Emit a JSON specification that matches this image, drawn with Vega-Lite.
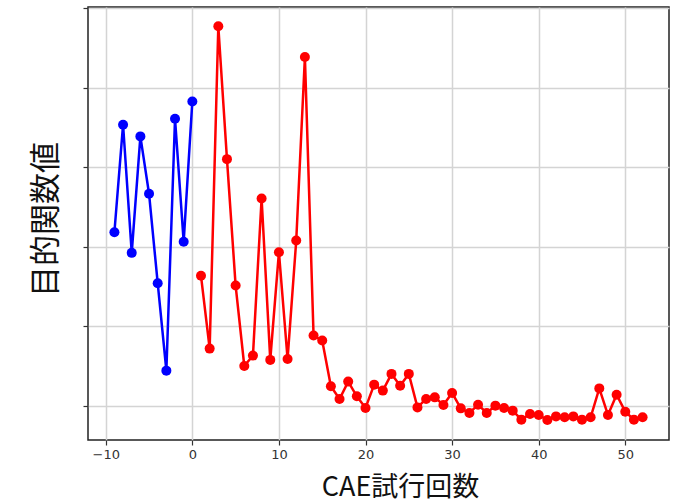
{
  "$schema": "https://vega.github.io/schema/vega-lite/v6.json",
  "autosize": "none",
  "width": 581,
  "height": 433,
  "padding": {"left": 88, "top": 7, "right": 5, "bottom": 62},
  "background": "white",
  "config": {
    "view": {"stroke": "#222222", "strokeWidth": 1.5},
    "font": "DejaVu Sans"
  },
  "data": {
    "values": [
      {"x": -9, "y": 2.184, "s": "initial"},
      {"x": -8, "y": 3.536, "s": "initial"},
      {"x": -7, "y": 1.925, "s": "initial"},
      {"x": -6, "y": 3.389, "s": "initial"},
      {"x": -5, "y": 2.668, "s": "initial"},
      {"x": -4, "y": 1.543, "s": "initial"},
      {"x": -3, "y": 0.444, "s": "initial"},
      {"x": -2, "y": 3.611, "s": "initial"},
      {"x": -1, "y": 2.064, "s": "initial"},
      {"x": 0, "y": 3.829, "s": "initial"},
      {"x": 1, "y": 1.636, "s": "opt"},
      {"x": 2, "y": 0.721, "s": "opt"},
      {"x": 3, "y": 4.773, "s": "opt"},
      {"x": 4, "y": 3.103, "s": "opt"},
      {"x": 5, "y": 1.514, "s": "opt"},
      {"x": 6, "y": 0.503, "s": "opt"},
      {"x": 7, "y": 0.633, "s": "opt"},
      {"x": 8, "y": 2.609, "s": "opt"},
      {"x": 9, "y": 0.579, "s": "opt"},
      {"x": 10, "y": 1.933, "s": "opt"},
      {"x": 11, "y": 0.591, "s": "opt"},
      {"x": 12, "y": 2.08, "s": "opt"},
      {"x": 13, "y": 4.387, "s": "opt"},
      {"x": 14, "y": 0.885, "s": "opt"},
      {"x": 15, "y": 0.822, "s": "opt"},
      {"x": 16, "y": 0.247, "s": "opt"},
      {"x": 17, "y": 0.088, "s": "opt"},
      {"x": 18, "y": 0.306, "s": "opt"},
      {"x": 19, "y": 0.121, "s": "opt"},
      {"x": 20, "y": -0.025, "s": "opt"},
      {"x": 21, "y": 0.268, "s": "opt"},
      {"x": 22, "y": 0.193, "s": "opt"},
      {"x": 23, "y": 0.403, "s": "opt"},
      {"x": 24, "y": 0.255, "s": "opt"},
      {"x": 25, "y": 0.403, "s": "opt"},
      {"x": 26, "y": -0.018, "s": "opt"},
      {"x": 27, "y": 0.088, "s": "opt"},
      {"x": 28, "y": 0.108, "s": "opt"},
      {"x": 29, "y": 0.013, "s": "opt"},
      {"x": 30, "y": 0.164, "s": "opt"},
      {"x": 31, "y": -0.03, "s": "opt"},
      {"x": 32, "y": -0.088, "s": "opt"},
      {"x": 33, "y": 0.016, "s": "opt"},
      {"x": 34, "y": -0.088, "s": "opt"},
      {"x": 35, "y": 0.004, "s": "opt"},
      {"x": 36, "y": -0.025, "s": "opt"},
      {"x": 37, "y": -0.059, "s": "opt"},
      {"x": 38, "y": -0.172, "s": "opt"},
      {"x": 39, "y": -0.101, "s": "opt"},
      {"x": 40, "y": -0.113, "s": "opt"},
      {"x": 41, "y": -0.176, "s": "opt"},
      {"x": 42, "y": -0.131, "s": "opt"},
      {"x": 43, "y": -0.143, "s": "opt"},
      {"x": 44, "y": -0.131, "s": "opt"},
      {"x": 45, "y": -0.172, "s": "opt"},
      {"x": 46, "y": -0.143, "s": "opt"},
      {"x": 47, "y": 0.221, "s": "opt"},
      {"x": 48, "y": -0.113, "s": "opt"},
      {"x": 49, "y": 0.142, "s": "opt"},
      {"x": 50, "y": -0.072, "s": "opt"},
      {"x": 51, "y": -0.172, "s": "opt"},
      {"x": 52, "y": -0.143, "s": "opt"}
    ]
  },
  "encoding": {
    "x": {
      "field": "x",
      "type": "quantitative",
      "scale": {"domain": [-12.05, 55.05], "nice": false, "zero": false},
      "axis": {
        "values": [-10, 0, 10, 20, 30, 40, 50],
        "title": "CAE試行回数",
        "titleFont": "Noto Sans CJK JP",
        "titleFontSize": 27,
        "titleFontWeight": "normal",
        "titleColor": "#111111",
        "titleX": 312,
        "titleY": 55,
        "titleAnchor": null,
        "titleAlign": "center",
        "titleBaseline": "alphabetic",
        "labelFont": "DejaVu Sans",
        "labelFontSize": 13,
        "labelColor": "#333333",
        "labelPadding": 3,
        "labelFlush": false,
        "tickColor": "#333333",
        "tickSize": 5,
        "tickWidth": 1.2,
        "domain": false,
        "grid": true,
        "gridColor": "#d4d4d4",
        "gridWidth": 1.5
      }
    },
    "y": {
      "field": "y",
      "type": "quantitative",
      "scale": {"domain": [-0.428, 5.016], "nice": false, "zero": false},
      "axis": {
        "values": [0, 1, 2, 3, 4, 5],
        "labels": false,
        "title": "目的関数値",
        "titleFont": "Noto Sans CJK JP",
        "titleFontSize": 31,
        "titleFontWeight": "normal",
        "titleColor": "#111111",
        "titleAngle": -90,
        "titleX": -42,
        "titleY": 212,
        "titleAnchor": null,
        "titleAlign": "center",
        "titleBaseline": "middle",
        "tickColor": "#333333",
        "tickSize": 5,
        "tickWidth": 1.2,
        "domain": false,
        "grid": true,
        "gridColor": "#d4d4d4",
        "gridWidth": 1.5
      }
    },
    "color": {
      "field": "s",
      "type": "nominal",
      "scale": {"domain": ["initial", "opt"], "range": ["#0000ff", "#ff0000"]},
      "legend": null
    }
  },
  "layer": [
    {"mark": {"type": "line", "strokeWidth": 2.5}},
    {"mark": {"type": "point", "filled": true, "opacity": 1, "size": 100}}
  ]
}
